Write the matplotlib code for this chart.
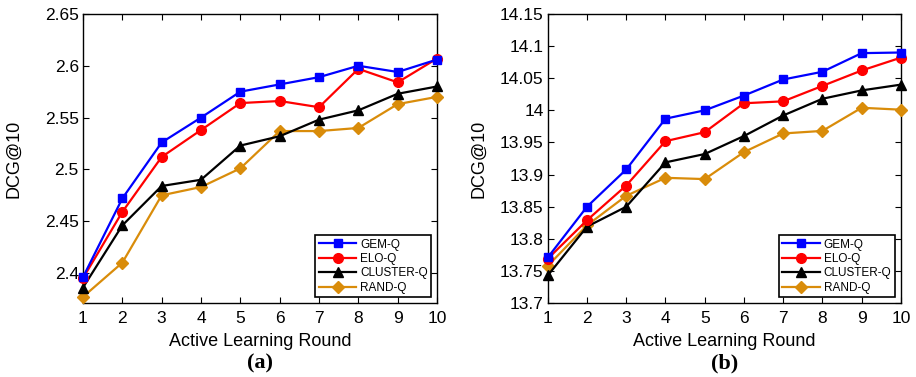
import matplotlib.pyplot as plt
import numpy as np

plt.rcParams['font.family'] = ['Liberation Sans', 'DejaVu Sans']

rounds = list(range(1, 11))
series_names = ['GEM-Q', 'ELO-Q', 'CLUSTER-Q', 'RAND-Q']

# panel (a)
gem_a = [2.396, 2.472, 2.526, 2.550, 2.575, 2.582, 2.589, 2.600, 2.594, 2.606]
elo_a = [2.395, 2.459, 2.512, 2.538, 2.564, 2.566, 2.560, 2.597, 2.584, 2.607]
cluster_a = [2.386, 2.446, 2.484, 2.490, 2.523, 2.532, 2.548, 2.557, 2.573, 2.580]
rand_a = [2.377, 2.410, 2.475, 2.483, 2.501, 2.537, 2.537, 2.540, 2.563, 2.570]

# panel (b)
gem_b = [13.771, 13.850, 13.908, 13.987, 14.000, 14.023, 14.048, 14.060, 14.089, 14.090]
elo_b = [13.769, 13.829, 13.883, 13.952, 13.966, 14.011, 14.014, 14.038, 14.062, 14.082]
cluster_b = [13.743, 13.819, 13.850, 13.919, 13.932, 13.960, 13.992, 14.018, 14.031, 14.040]
rand_b = [13.758, 13.821, 13.867, 13.895, 13.893, 13.935, 13.964, 13.968, 14.004, 14.001]

yticks_a = [2.4, 2.45, 2.5, 2.55, 2.6, 2.65]
yticklabels_a = ['2.4', '2.45', '2.5', '2.55', '2.6', '2.65']
yticks_b = [13.7, 13.75, 13.8, 13.85, 13.9, 13.95, 14.0, 14.05, 14.1, 14.15]
yticklabels_b = ['13.7', '13.75', '13.8', '13.85', '13.9', '13.95', '14', '14.05', '14.1', '14.15']

colours = ('#0000ff', '#ff0000', '#000000', '#d98c0a')
markers = ('s', 'o', '^', 'D')
msizes = (5.5, 7, 7, 6)


def plot_panel(ax, data, ylim, yticks, yticklabels, tag):
    for i, ys in enumerate(data):
        ax.plot(rounds, ys, color=colours[i], marker=markers[i],
                markersize=msizes[i], linewidth=1.6, label=series_names[i],
                clip_on=False, zorder=3 + (3 - i))
    ax.set_xlim(1, 10)
    ax.set_ylim(*ylim)
    ax.set_xticks(rounds)
    ax.set_yticks(yticks)
    ax.set_yticklabels(yticklabels)
    ax.tick_params(direction='in', top=True, right=True, labelsize=12.5,
                   length=4, width=0.8)
    ax.tick_params(axis='x', pad=6)
    ax.tick_params(axis='y', pad=3)
    for s in ax.spines.values():
        s.set_linewidth(1.0)
    ax.set_xlabel('Active Learning Round', fontsize=13)
    ax.set_ylabel('DCG@10', fontsize=13)
    ax.xaxis.set_label_coords(0.5, -0.105)
    ax.yaxis.set_label_coords(-0.17, 0.5)
    leg = ax.legend(loc='lower right', fontsize=8.5, fancybox=False,
                    edgecolor='black', framealpha=1, borderpad=0.3,
                    labelspacing=0.2, handlelength=3.2, handletextpad=0.3,
                    borderaxespad=0.5)
    leg.get_frame().set_linewidth(1.2)
    ax.text(0.5, -0.21, tag, transform=ax.transAxes, ha='center',
            va='center', fontsize=16, fontweight='bold',
            family='Liberation Serif')


fig = plt.figure(figsize=(9.16, 3.77), dpi=100)
ax1 = fig.add_axes([0.0906, 0.196, 0.3865, 0.767])
ax2 = fig.add_axes([0.598, 0.196, 0.3855, 0.767])

plot_panel(ax1, [gem_a, elo_a, cluster_a, rand_a], (2.371, 2.65),
           yticks_a, yticklabels_a, '(a)')
plot_panel(ax2, [gem_b, elo_b, cluster_b, rand_b], (13.7, 14.15),
           yticks_b, yticklabels_b, '(b)')

fig.savefig('out.png', dpi=100)
